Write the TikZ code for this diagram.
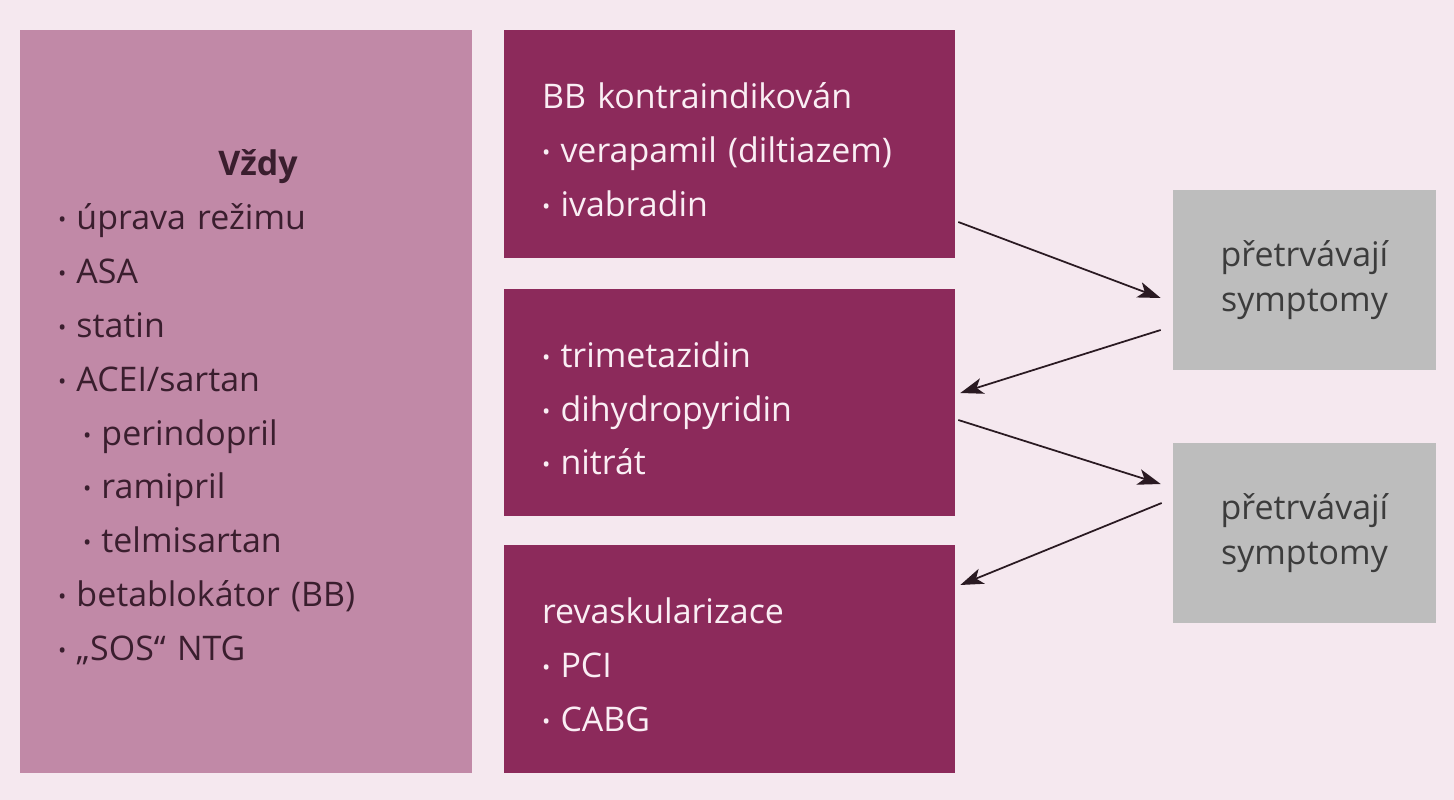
\documentclass[tikz,border=0pt]{standalone}
\usepackage{fontspec}
\setmainfont{Open Sans}
\usepackage{graphicx}
\usetikzlibrary{arrows.meta}
\definecolor{bgpink}{HTML}{F5E8EF}
\definecolor{mauve}{HTML}{C189A7}
\definecolor{wine}{HTML}{8C2A5B}
\definecolor{greybox}{HTML}{BDBDBD}
\definecolor{plumtext}{HTML}{3A1E2E}
\definecolor{winetext}{HTML}{FAEEF4}
\definecolor{greytext}{HTML}{3C3C3C}
\definecolor{arrowdark}{HTML}{2A1A22}
\newcommand{\bul}{\raisebox{0.06em}{\scalebox{0.65}{•}}\hspace{0.3em}}
\newcommand{\subind}{\hspace*{0.5cm}}
\newcommand{\topstrut}{\rule{0pt}{0.75cm}}
\begin{document}
\begin{tikzpicture}[x=0.02cm, y=-0.02cm,
    always/.style={fill=mauve, text=plumtext, align=left, text width=7.52cm,
      inner xsep=0.76cm, inner ysep=0pt, minimum height=14.86cm,
      font=\fontsize{19.3}{30.7}\selectfont},
    therapy/.style={fill=wine, text=winetext, align=left, text width=7.5cm,
      inner xsep=0.76cm, inner ysep=0pt, minimum height=4.56cm,
      font=\fontsize{19.3}{30.5}\selectfont},
    persist/.style={fill=greybox, text=greytext, align=center,
      minimum width=5.26cm, minimum height=3.62cm, inner sep=0pt,
      font=\fontsize{19.3}{25.6}\selectfont},
    flow/.style={draw=arrowdark, line width=1pt,
      -{Stealth[length=0.46cm, width=0.32cm, inset=0.12cm]}}]
  % background
  \useasboundingbox (0,0) rectangle (1454,800);
  \fill[bgpink] (0,0) rectangle (1454,800);

  % left column
  \node[always] (vzdy) at (246,401.5)
    {\topstrut\makebox[7.52cm][c]{\hspace{0.48cm}\textbf{Vždy}}\\
     \bul úprava režimu\\
     \bul ASA\\
     \bul statin\\
     \bul ACEI/sartan\\
     \subind\bul perindopril\\
     \subind\bul ramipril\\
     \subind\bul telmisartan\\
     \bul betablokátor (BB)\\
     \bul „SOS“ NTG};

  % middle column
  \node[therapy] (bbkontra) at (729.5,144)
    {\topstrut BB kontraindikován\\
     \bul verapamil (diltiazem)\\
     \bul ivabradin};
  \node[therapy] (druha) at (729.5,402.5)
    {\topstrut\bul trimetazidin\\
     \bul dihydropyridin\\
     \bul nitrát};
  \node[therapy] (revask) at (729.5,659)
    {\topstrut revaskularizace\\
     \bul PCI\\
     \bul CABG};

  % right column
  \node[persist] (symp1) at (1304.5,280) {přetrvávají\\symptomy};
  \node[persist] (symp2) at (1304.5,533) {přetrvávají\\symptomy};

  % arrows
  \draw[flow] ([shift={(3,78)}]bbkontra.east) -- ([shift={(-12,18)}]symp1.west);
  \draw[flow] ([shift={(-12,50)}]symp1.west) -- ([shift={(5,-9.5)}]druha.east);
  \draw[flow] ([shift={(3,17.5)}]druha.east) -- ([shift={(-12,-49)}]symp2.west);
  \draw[flow] ([shift={(-11,-30)}]symp2.west) -- ([shift={(5,-74)}]revask.east);
\end{tikzpicture}
\end{document}
